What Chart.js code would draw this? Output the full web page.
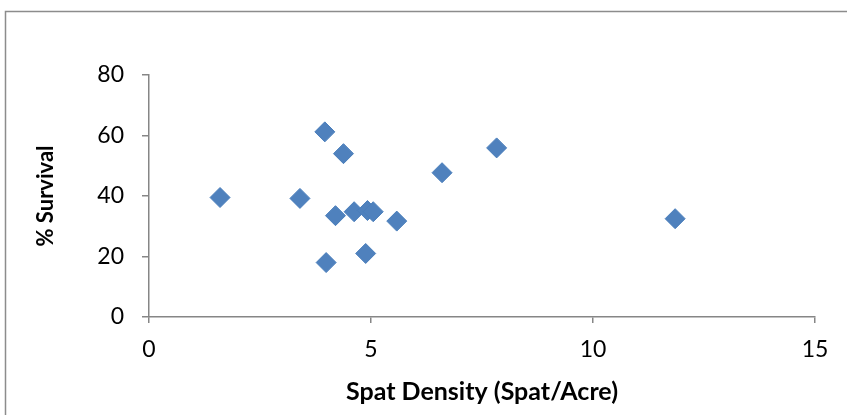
<!DOCTYPE html>
<html>
<head>
<meta charset="utf-8">
<script src="https://cdn.jsdelivr.net/npm/chart.js@4/dist/chart.umd.min.js"></script>
<style>
  html, body { margin: 0; padding: 0; background: #fff; }
  #wrap { width: 847px; height: 415px; }
</style>
</head>
<body>
<div id="wrap"><canvas id="spatChart" width="847" height="415"></canvas></div>
<script>
// spat density vs. survival, one point per site
var spatDensity = [1.6, 3.4, 3.96, 3.99, 4.2, 4.38, 4.62, 4.88, 4.92, 5.05, 5.58, 6.6, 7.83, 11.85];
var survivalPct = [39.5, 39.2, 61.2, 18.0, 33.5, 54.0, 34.8, 21.0, 35.2, 34.8, 31.7, 47.7, 55.9, 32.5];
var xTickValues = [0, 5, 10, 15];
var yTickValues = [0, 20, 40, 60, 80];

var points = [];
for (var i = 0; i < spatDensity.length; i++) {
  points.push({ x: spatDensity[i], y: survivalPct[i] });
}

var axisGray = '#868686';
var fontFamily = 'Lato, "Open Sans", sans-serif';

// outer chart frame, runs off the right and bottom edge
var framePlugin = {
  id: 'frame',
  beforeDraw: function(chart) {
    var ctx = chart.ctx;
    ctx.save();
    ctx.strokeStyle = '#8c8c8c';
    ctx.lineWidth = 1.5;
    ctx.strokeRect(5.5, 11.5, 1000, 600);
    ctx.restore();
  }
};

var ctx = document.getElementById('spatChart').getContext('2d');
new Chart(ctx, {
  type: 'scatter',
  data: {
    datasets: [{
      label: 'Survival',
      data: points,
      pointStyle: 'rectRot',
      pointRadius: 10,
      pointHoverRadius: 10,
      backgroundColor: '#4F81BD',
      borderColor: '#4A7EBB',
      borderWidth: 1
    }]
  },
  options: {
    responsive: false,
    animation: false,
    layout: { padding: { left: 0, top: 75, right: 32, bottom: 0 } },
    plugins: { legend: { display: false }, tooltip: { enabled: false } },
    scales: {
      x: {
        type: 'linear',
        min: 0,
        max: 15,
        afterFit: function(scale) { scale.height = 98; },
        afterBuildTicks: function(scale) {
          scale.ticks = xTickValues.map(function(v) { return { value: v }; });
        },
        border: { color: axisGray, width: 1.5 },
        grid: { drawOnChartArea: false, drawTicks: true, tickLength: 6, color: axisGray, lineWidth: 1.5 },
        ticks: { color: '#000', padding: 13, font: { family: fontFamily, size: 23 } },
        title: {
          display: true,
          text: 'Spat Density (Spat/Acre)',
          color: '#000',
          padding: { top: 0, bottom: 8 },
          font: { family: fontFamily, size: 25, weight: 'bold' }
        }
      },
      y: {
        type: 'linear',
        min: 0,
        max: 80,
        afterFit: function(scale) { scale.width = 149; },
        afterBuildTicks: function(scale) {
          scale.ticks = yTickValues.map(function(v) { return { value: v }; });
        },
        border: { color: axisGray, width: 1.5 },
        grid: { drawOnChartArea: false, drawTicks: true, tickLength: 7, color: axisGray, lineWidth: 1.5 },
        ticks: { color: '#000', padding: 18, font: { family: fontFamily, size: 23 } },
        title: {
          display: true,
          text: '% Survival',
          color: '#000',
          padding: { top: 33, bottom: 0 },
          font: { family: fontFamily, size: 22, weight: 'bold' }
        }
      }
    }
  },
  plugins: [framePlugin]
});
</script>
</body>
</html>
